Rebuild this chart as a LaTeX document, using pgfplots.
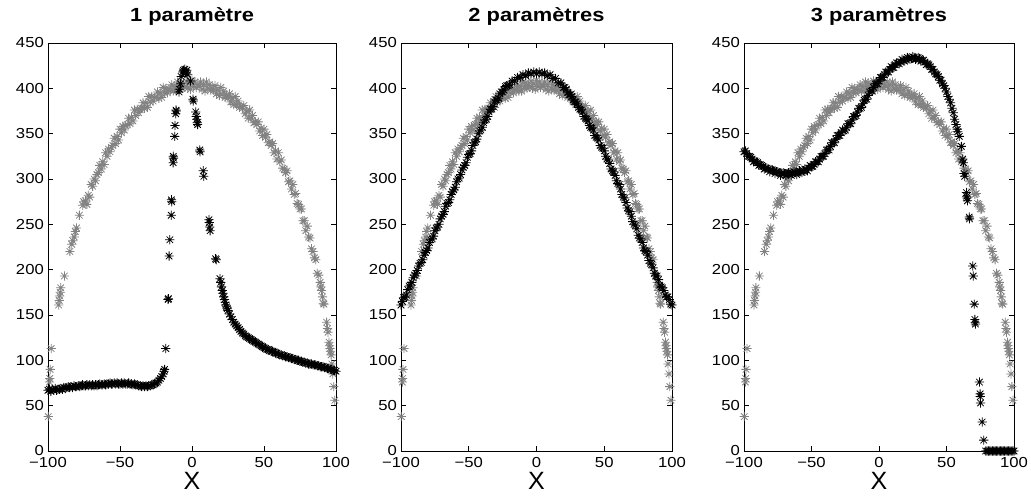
\documentclass[border=0pt]{standalone}
\usepackage{fontspec}
\setmainfont{Liberation Sans}[FakeStretch=1.15]
\newfontfamily\xfont{Liberation Sans}
\usepackage{pgfplots}
\pgfplotsset{compat=1.18}
\usepackage{pgfplotstable}
\definecolor{mgray}{RGB}{130,130,130}

\pgfdeclareplotmark{mstar}{%
  \pgfpathmoveto{\pgfqpoint{-\pgfplotmarksize}{0pt}}%
  \pgfpathlineto{\pgfqpoint{\pgfplotmarksize}{0pt}}%
  \pgfpathmoveto{\pgfqpoint{0pt}{-\pgfplotmarksize}}%
  \pgfpathlineto{\pgfqpoint{0pt}{\pgfplotmarksize}}%
  \pgfpathmoveto{\pgfqpoint{-0.707\pgfplotmarksize}{-0.707\pgfplotmarksize}}%
  \pgfpathlineto{\pgfqpoint{0.707\pgfplotmarksize}{0.707\pgfplotmarksize}}%
  \pgfpathmoveto{\pgfqpoint{-0.707\pgfplotmarksize}{0.707\pgfplotmarksize}}%
  \pgfpathlineto{\pgfqpoint{0.707\pgfplotmarksize}{-0.707\pgfplotmarksize}}%
  \pgfusepathqstroke}

\pgfplotstableread{
x y
-99.8 38
-99.0 76
-98.8 80
-98.5 90
-97.8 113
-92.6 161
-92.2 166
-91.8 171
-91.5 175
-91.2 180
-88.6 193
-84.8 220
-83.5 228
-82.8 232
-81.8 236
-81.0 242
-80.2 246
-78.2 260
-75.8 271
-75.2 275
-74 276
-73 272
-72 282
-71 280
-70 294
-69 292
-68 300
-67 298
-66 305
-65 307
-64 315
-63 311
-62 319
-61 316
-60 329
-59 325
-58 333
-57 330
-56 335
-55 337
-54 345
-53 339
-52 347
-51 343
-50 355
-49 351
-48 358
-47 354
-46 359
-45 360
-44 367
-43 361
-42 368
-41 364
-40 376
-39 370
-38 377
-37 373
-36 377
-35 378
-34 384
-33 378
-32 384
-31 379
-30 391
-29 385
-28 391
-27 386
-26 390
-25 390
-24 396
-23 389
-22 395
-21 390
-20 401
-19 395
-18 400
-17 395
-16 399
-15 398
-14 404
-13 397
-12 402
-11 397
-10 407
-9 400
-8 406
-7 400
-6 403
-5 402
-4 408
-3 400
-2 405
-1 399
0 409
1 402
2 407
3 401
4 404
5 402
6 407
7 399
8 404
9 397
10 407
11 400
12 404
13 398
14 400
15 398
16 403
17 394
18 398
19 392
20 401
21 393
22 397
23 390
24 392
25 390
26 394
27 385
28 389
29 382
30 391
31 382
32 386
33 379
34 380
35 378
36 381
37 372
38 375
39 367
40 376
41 367
42 370
43 362
44 363
45 360
46 363
47 353
48 356
49 348
50 355
51 346
52 349
53 340
54 341
55 337
56 339
57 329
58 331
59 322
60 329
61 319
62 321
63 312
64 311
65 307
66 309
67 297
68 298
69 289
70 294
71 283
72 284
73 273
74 272
75 267
76 267
77 254
78 254
79 243
80 248
81 236
82 235
83 223
84 220
85 213
86 211
87 196
88 194
89 186
89.5 181
90 177
90.6 170
91.2 163
91.6 162
93.5 142
94.1 135
94.5 131
95.2 120
95.5 116
95.8 113
96.2 110
96.6 106
97.1 96
97.8 85
98.4 71
99.2 56
}\graydata

\pgfplotstableread{
x y
-100 67
-99 68
-98 66
-97 68
-96 67
-95 69
-94 67
-93 68
-92 68
-91 69
-90 68
-89 70
-88 69
-87 70
-86 71
-85 70
-84 71
-83 70
-82 72
-81 71
-80 71
-79 72
-78 71
-77 72
-76 73
-75 72
-74 72
-73 73
-72 72
-71 73
-70 72
-69 73
-68 72
-67 73
-66 72
-65 73
-64 74
-63 73
-62 73
-61 74
-60 73
-59 74
-58 74
-57 75
-56 74
-55 74
-54 75
-53 74
-52 75
-51 74
-50 74
-49 75
-48 74
-47 75
-46 74
-45 74
-44 75
-43 74
-42 74
-41 73
-40 74
-39 73
-38 73
-37 72
-36 72
-35 71
-34 72
-33 71
-32 72
-31 71
-30 72
-29 72
-28 73
-27 73
-26 74
-25 75
-24 76
-23 78
-22 80
-21 82
-20 85
-19.5 88
-19 90
-18.2 113
-16.6 167
-16.4 168
-15.9 215
-15.4 233
-14.4 260
-14.3 277
-14.1 275
-13.1 318
-13.0 325
-12.8 323
-12.0 347
-11.8 359
-11.3 372
-11.1 376
-10.9 375
-9.0 396
-8.8 399
-8.0 405
-7.5 413
-6.5 418
-6.0 420
-5.5 419
-5.0 421
-4.5 418
-4.0 417
-3.6 420
-3.0 415
-1.0 408
0.7 388
0.9 386
2.6 374
3.0 369
3.3 366
3.6 362
3.9 360
5.4 332
5.6 330
7.8 309
8.2 303
11.8 255
12.0 252
12.3 247
12.6 243
16.4 212
16.8 211
19.4 190
20 186
20.5 181
21 177
21.5 174
22 170
22.5 167
23 164
23.5 161
24 159
24.5 157
25 155
26 151
27 148
28 145
29 142
30 140
31 138
32 136
33 134
34 132
35 130
36 129
37 127
38 126
39 125
40 124
41 123
42 122
43 121
44 120
45 119
46 118
47 117
48 116
49 115
50 114
51 113
52 112
53 112
54 111
55 110
56 110
57 109
58 108
59 108
60 107
61 106
62 106
63 105
64 105
65 104
66 104
67 103
68 103
69 102
70 102
71 101
72 101
73 100
74 100
75 99
76 99
77 98
78 98
79 97
80 97
81 96
82 96
83 96
84 95
85 95
86 95
87 94
88 94
89 93
90 93
91 93
92 92
93 92
94 91
95 91
96 90
97 90
98 89
99 89
100 88
}\blackA

\pgfplotstableread{
x y
-100 161
-99 165
-98 169
-97 170
-96 172
-95 178
-94 182
-93 183
-92 186
-91 191
-90 194
-89 196
-88 199
-87 204
-86 207
-85 208
-84 211
-83 216
-82 219
-81 221
-80 224
-79 230
-78 233
-77 234
-76 237
-75 243
-74 246
-73 247
-72 250
-71 256
-70 259
-69 261
-68 264
-67 270
-66 273
-65 274
-64 277
-63 283
-62 286
-61 288
-60 291
-59 297
-58 300
-57 301
-56 305
-55 310
-54 313
-53 315
-52 318
-51 324
-50 327
-49 328
-48 331
-47 337
-46 340
-45 341
-44 344
-43 350
-42 353
-41 354
-40 357
-39 362
-38 365
-37 366
-36 369
-35 374
-34 377
-33 377
-32 380
-31 385
-30 387
-29 387
-28 389
-27 394
-26 396
-25 396
-24 398
-23 402
-22 403
-21 403
-20 404
-18 408
-16 408
-14 412
-12 412
-10 415
-8 414
-6 417
-4 416
-2 418
0 416
2 418
4 416
6 417
8 414
10 415
12 411
14 411
16 406
18 406
20 401
21 401
22 399
23 395
24 393
25 393
26 391
27 387
28 385
29 385
30 383
31 379
32 377
33 376
34 374
35 369
36 367
37 366
38 364
39 359
40 357
41 356
42 354
43 348
44 346
45 345
46 343
47 337
48 335
49 334
50 331
51 325
52 322
53 321
54 317
55 311
56 309
57 308
58 304
59 298
60 295
61 294
62 289
63 283
64 280
65 279
66 274
67 268
68 265
69 264
70 259
71 253
72 250
73 249
74 245
75 238
76 235
77 234
78 230
79 224
80 221
81 220
82 216
83 210
84 207
85 206
86 202
87 196
88 193
89 193
90 189
91 183
92 181
93 180
94 177
95 172
96 170
97 170
98 167
99 162
100 161
}\blackB

\pgfplotstableread{
x y
-100 330
-99 331
-98 328
-97 325
-96 325
-95 324
-94 322
-93 319
-92 320
-91 319
-90 318
-89 315
-88 316
-87 315
-86 314
-85 311
-84 312
-83 312
-82 311
-81 308
-80 310
-79 310
-78 309
-77 306
-76 308
-75 308
-74 307
-73 304
-72 306
-71 307
-70 306
-69 304
-68 306
-67 307
-66 306
-65 304
-64 306
-63 308
-62 307
-61 305
-60 307
-59 309
-58 308
-57 307
-56 309
-55 311
-54 310
-53 309
-52 312
-51 315
-50 314
-49 314
-48 316
-47 319
-46 319
-45 319
-44 322
-43 325
-42 325
-41 325
-40 328
-39 332
-38 332
-37 332
-36 336
-35 340
-34 340
-33 340
-32 344
-31 348
-30 348
-29 348
-28 351
-27 354
-26 353
-25 354
-24 357
-23 361
-22 361
-21 361
-20 365
-19 369
-18 369
-17 370
-16 374
-15 378
-14 378
-13 379
-12 383
-11 387
-10 388
-9 388
-8 392
-7 396
-6 397
-5 397
-4 401
-3 405
-2 405
-1 405
0 408
1 412
2 412
3 412
4 415
5 418
6 418
7 418
8 421
9 424
10 423
11 423
12 426
13 428
14 428
15 427
16 429
17 432
18 431
19 430
20 432
21 434
22 433
23 432
24 433
25 435
26 434
27 432
28 433
29 434
30 433
31 430
32 431
33 431
34 429
35 426
36 427
37 426
38 424
39 421
40 421
41 418
42 416
43 415
44 413
45 409
46 409
47 405
48 403
49 400
50 396
51 391
52 388
53 384
54 378
55 373
56 366
57 360
58 355
58.3 352
59.5 347
61 336
62 322
62.5 318
63 306
63.5 303
64.8 285
65 281
65.2 279
65.5 276
66.8 258
67 256
69.5 204
69.8 193
70.6 162
71 145
71.2 142
71.4 140
74.4 76
74.9 63
75 60
75.2 53
76.4 32
77.6 12
79 0
80 0
81 0
82 0
83 0
84 0
85 0
86 0
87 0
88 0
89 0
90 0
91 0
92 0
93 0
94 0
95 0
96 0
97 0
98 0
99 0
100 0
}\blackC

\pgfplotsset{
  mystyle/.style={
    scale only axis, height=408bp, anchor=south west,
    xmin=-100, xmax=100, ymin=0, ymax=450,
    xtick={-100,-50,0,50,100}, xticklabels={−100,−50,0,50,100},
    ytick={0,50,100,150,200,250,300,350,400,450},
    yticklabels={0,50,100,150,200,250,300,350,400,450},
    tick align=inside, major tick length=5bp,
    tick style={line width=0.6bp, black},
    tick label style={font=\fontsize{14.5bp}{16bp}\selectfont},
    xticklabel style={inner sep=0pt, yshift=-6bp},
    yticklabel style={inner sep=0pt, xshift=-4bp},
    clip=false, axis line style={line width=0.8bp},
    xlabel={\xfont X},
    xlabel style={font=\fontsize{25bp}{28bp}\selectfont, at={(axis description cs:0.5,0)}, anchor=base, yshift=-39bp},
    title style={font=\fontsize{19bp}{21bp}\selectfont\bfseries, at={(axis description cs:0.5,1)}, anchor=base, yshift=16bp},
  },
  grayplot/.style={only marks, mark=mstar, mark size=4.6bp, line width=0.8bp, mgray},
  blackplot/.style={only marks, mark=mstar, mark size=4.6bp, line width=0.8bp, black},
}

\begin{document}
\begin{tikzpicture}
\begin{axis}[mystyle, at={(48bp,53bp)}, width=288bp, title={1 paramètre}]
\addplot[grayplot] table[x=x,y=y] {\graydata};
\addplot[blackplot] table[x=x,y=y] {\blackA};
\end{axis}
\begin{axis}[mystyle, at={(401bp,53bp)}, width=271bp, title={2 paramètres}]
\addplot[grayplot] table[x=x,y=y] {\graydata};
\addplot[blackplot] table[x=x,y=y] {\blackB};
\end{axis}
\begin{axis}[mystyle, at={(744bp,53bp)}, width=270bp, title={3 paramètres}]
\addplot[grayplot] table[x=x,y=y] {\graydata};
\addplot[blackplot] table[x=x,y=y] {\blackC};
\end{axis}
\pgfresetboundingbox
\path[use as bounding box] (0,0) rectangle (1031bp,504bp);
\end{tikzpicture}
\end{document}
